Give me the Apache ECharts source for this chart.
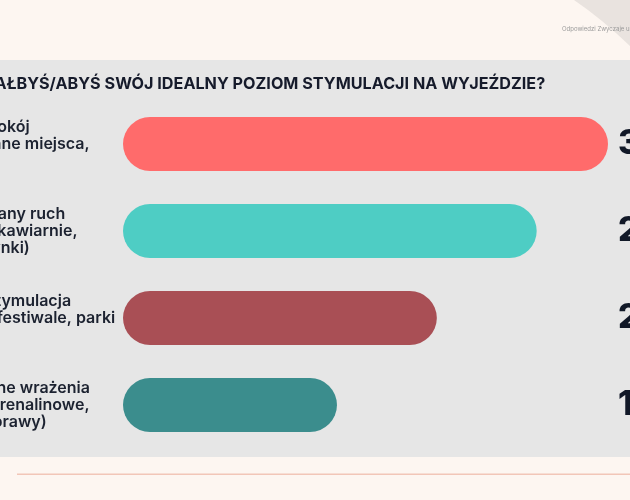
<!DOCTYPE html>
<html>
<head>
<meta charset="utf-8">
<title>Poziom stymulacji</title>
<script src="https://cdn.jsdelivr.net/npm/echarts@6/dist/echarts.min.js"></script>
<style>
  html, body { margin: 0; padding: 0; background: #fdf6f1; }
  #chart { width: 630px; height: 500px; }
</style>
</head>
<body>
<div id="chart"></div>
<script>
const categories = [
  'Czysty spokój\n(zapomniane miejsca,\nnatura)',
  'Umiarkowany ruch\n(spacery, kawiarnie,\nzakupy, rynki)',
  'Wysoka stymulacja\n(imprezy, festiwale, parki\nkluby)',
  'Ekstremalne wrażenia\n(sporty adrenalinowe,\nskoki, wyprawy)'
]
const values = [34, 29, 22, 15]
const valueLabels = ['34%', '29%', '22%', '15%']
const barColors = ['#ff6b6b', '#4ecdc4', '#a94f55', '#3b8d8d']

const chart = echarts.init(document.getElementById('chart'))

const option = {
  backgroundColor: '#fdf6f1',
  animation: false,
  graphic: [
    {
      type: 'polygon', z: 0,
      shape: { points: [[574, 0], [588, 10], [602, 21], [616, 33], [630, 46], [630, 0]] },
      style: { fill: '#e9e3df' }
    },
    { type: 'rect', z: 0, shape: { x: 0, y: 60, width: 630, height: 397 }, style: { fill: '#e6e6e6' } },
    { type: 'rect', z: 0, shape: { x: 17, y: 473.5, width: 613, height: 1.5 }, style: { fill: '#f2c6b8' } },
    {
      type: 'text', z: 10, x: 562, y: 29,
      style: { text: 'Odpowiedzi Zwyczaje urlopowe', fill: '#9a9a9a', font: '6px Inter', textVerticalAlign: 'middle' }
    },
    {
      type: 'text', z: 10, x: -80, y: 84,
      style: {
        text: 'JAK OPISAŁBYŚ/ABYŚ SWÓJ IDEALNY POZIOM STYMULACJI NA WYJEŹDZIE?',
        fill: '#161b2b', font: '700 16.2px Inter', textVerticalAlign: 'middle'
      }
    }
  ],
  grid: { left: 123, right: 22, top: 100.5, bottom: 51.5, outerBoundsMode: 'none' },
  xAxis: { type: 'value', min: 0, max: 34, show: false },
  yAxis: [
    {
      type: 'category',
      data: categories,
      inverse: true,
      axisLine: { show: false },
      axisTick: { show: false },
      axisLabel: {
        align: 'left',
        margin: 203,
        fontFamily: 'Inter',
        fontSize: 16,
        fontWeight: 600,
        lineHeight: 17,
        color: '#1c2230'
      }
    },
    {
      type: 'category',
      data: valueLabels,
      inverse: true,
      position: 'right',
      axisLine: { show: false },
      axisTick: { show: false },
      axisLabel: {
        margin: 10,
        fontFamily: 'Inter',
        fontSize: 34,
        fontWeight: 800,
        color: '#111827'
      }
    }
  ],
  series: [
    {
      type: 'bar',
      data: values.map((v, i) => ({ value: v, itemStyle: { color: barColors[i] } })),
      barWidth: 54,
      itemStyle: { borderRadius: 27 },
      z: 5
    }
  ]
}

chart.setOption(option)
</script>
</body>
</html>
